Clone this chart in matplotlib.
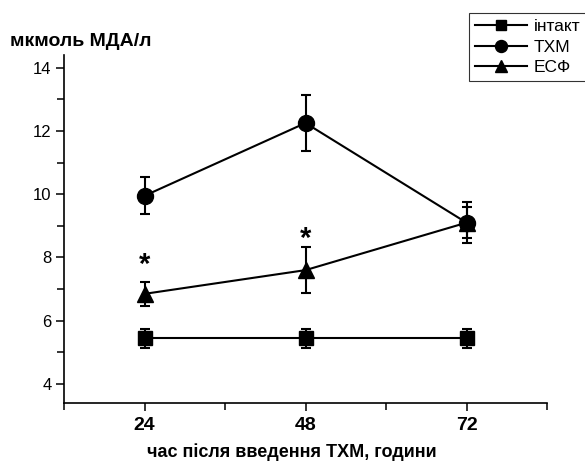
import numpy as np
import matplotlib.pyplot as plt
from matplotlib.ticker import MultipleLocator

plt.rcParams['font.family'] = ['Liberation Sans', 'DejaVu Sans']

# години після введення ТХМ
hours = [24, 48, 72]

intakt = [5.45, 5.45, 5.45]
intakt_err = [0.3, 0.3, 0.3]

thm = [9.95, 12.25, 9.1]
thm_err = [0.58, 0.9, 0.65]

esf = [6.85, 7.6, 9.1]
esf_err = [0.37, 0.72, 0.5]

# зірочки (достовірна різниця) над точками ЕСФ
star_hours = [24, 48]
star_y = [7.75, 8.6]

labels = ['інтакт', 'ТХМ', 'ЕСФ']

fig = plt.figure(figsize=(5.85, 4.63), dpi=100)
ax = fig.add_axes([64 / 585, 1 - 403 / 463, (547 - 64) / 585, (403 - 55) / 463])

common = dict(color='black', lw=1.5, capsize=3.5, capthick=1.5, elinewidth=1.5)
h1 = ax.errorbar(hours, intakt, yerr=intakt_err, marker='s', ms=9.5, **common)
h2 = ax.errorbar(hours, thm, yerr=thm_err, marker='o', ms=11.5, **common)
h3 = ax.errorbar(hours, esf, yerr=esf_err, marker='^', ms=12, **common)

for x, y in zip(star_hours, star_y):
    ax.text(x, y, '*', ha='center', va='center', fontsize=21, fontweight='bold')

ax.set_xlim(12, 84)
ax.set_ylim(3.4, 14.4)
ax.set_xticks(hours)
ax.xaxis.set_minor_locator(MultipleLocator(12))
ax.set_yticks([4, 6, 8, 10, 12, 14])
ax.yaxis.set_minor_locator(MultipleLocator(1))

for side in ['top', 'right']:
    ax.spines[side].set_visible(False)
for side in ['left', 'bottom']:
    ax.spines[side].set_linewidth(1.2)

ax.tick_params(axis='both', which='both', direction='out', width=1.1)
ax.tick_params(axis='both', which='major', length=6)
ax.tick_params(axis='both', which='minor', length=5)
ax.tick_params(axis='y', labelsize=12, pad=3)
ax.tick_params(axis='x', labelsize=14, pad=4)
for t in ax.get_xticklabels():
    t.set_fontweight('bold')

ax.set_xlabel('час після введення ТХМ, години', fontsize=13, fontweight='bold', va='center')
ax.xaxis.set_label_coords((292 - 64) / 483, (403 - 452) / 348)
fig.text(10 / 585, 1 - 41 / 463, 'мкмоль МДА/л', fontsize=14, fontweight='bold', va='center', ha='left')

leg = fig.legend([h1[0], h2[0], h3[0]], labels, loc='upper left',
                 bbox_to_anchor=(469 / 585, 1 - 13 / 463), fontsize=12.5, markerscale=0.75,
                 frameon=True, fancybox=False, edgecolor='black', handlelength=3.0,
                 handletextpad=0.4, borderpad=0.35, labelspacing=0.3, borderaxespad=0)
leg.get_frame().set_linewidth(0.8)

fig.savefig('out.png', dpi=100)
